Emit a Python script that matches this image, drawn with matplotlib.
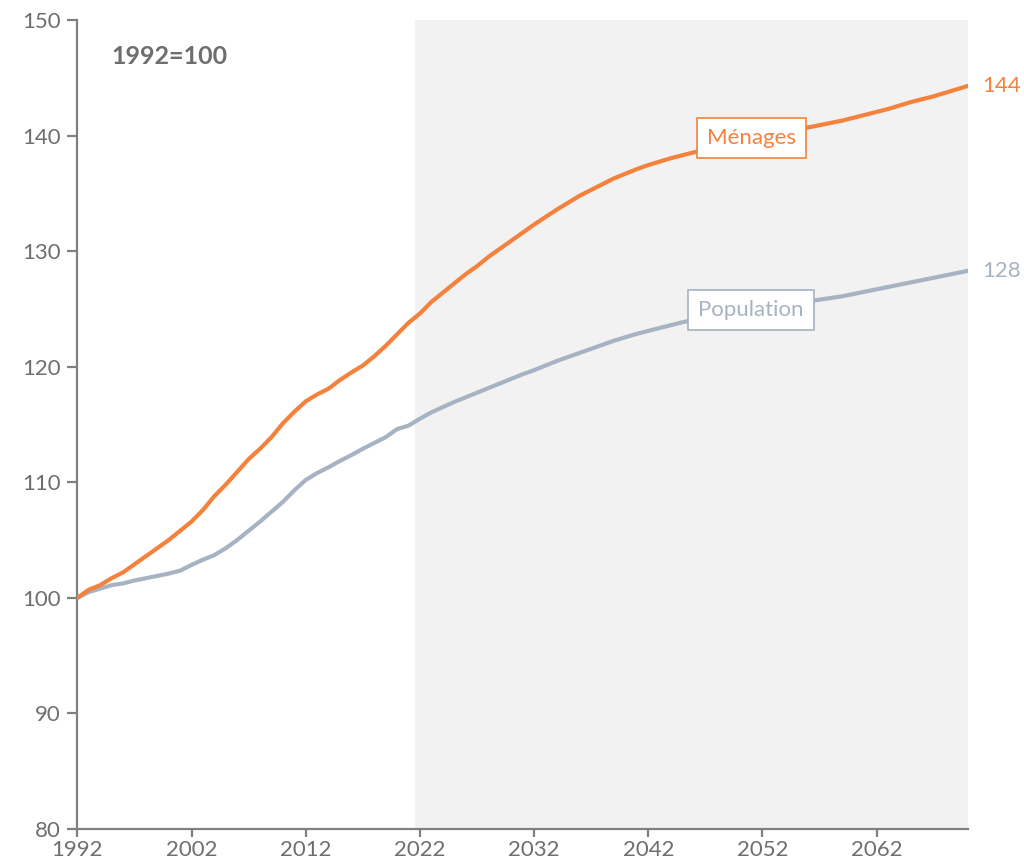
import numpy as np
import matplotlib
matplotlib.use("Agg")
import matplotlib.pyplot as plt

plt.rcParams["font.family"] = ["Lato", "DejaVu Sans"]

years = np.arange(1992, 2071)

# Ménages, index 1992=100
menages = [
    100.0, 100.7, 101.1, 101.7, 102.2, 102.9, 103.6, 104.3, 105.0, 105.8,   # 1992-2001
    106.6, 107.6, 108.8, 109.8, 110.9, 112.0, 112.9, 113.9, 115.1, 116.1,   # 2002-2011
    117.0, 117.6, 118.1, 118.85, 119.5, 120.1, 120.9, 121.8, 122.8, 123.8,  # 2012-2021
    124.6, 125.6, 126.4, 127.2, 128.0, 128.7, 129.5, 130.2, 130.9, 131.6,   # 2022-2031
    132.3, 132.95, 133.6, 134.2, 134.8, 135.3, 135.8, 136.3, 136.7, 137.1,  # 2032-2041
    137.45, 137.75, 138.05, 138.3, 138.55, 138.8, 139.05, 139.3, 139.55, 139.8,  # 2042-2051
    140.0, 140.2, 140.4, 140.55, 140.7, 140.9, 141.1, 141.3, 141.55, 141.8,  # 2052-2061
    142.05, 142.3, 142.6, 142.9, 143.15, 143.4, 143.7, 144.0, 144.3,        # 2062-2070
]

# Population, index 1992=100
population = [
    100.0, 100.5, 100.8, 101.1, 101.25, 101.5, 101.7, 101.9, 102.1, 102.35,
    102.85, 103.3, 103.7, 104.3, 105.0, 105.8, 106.6, 107.45, 108.3, 109.3,
    110.2, 110.8, 111.3, 111.85, 112.35, 112.9, 113.4, 113.9, 114.6, 114.9,
    115.5, 116.05, 116.5, 116.95, 117.35, 117.75, 118.15, 118.55, 118.95, 119.35,
    119.7, 120.1, 120.5, 120.85, 121.2, 121.55, 121.9, 122.25, 122.55, 122.85,
    123.1, 123.35, 123.6, 123.85, 124.05, 124.25, 124.45, 124.6, 124.75, 124.9,
    125.05, 125.2, 125.35, 125.5, 125.65, 125.8, 125.95, 126.1, 126.3, 126.5,
    126.7, 126.9, 127.1, 127.3, 127.5, 127.7, 127.9, 128.1, 128.3,
]

xticks = [1992, 2002, 2012, 2022, 2032, 2042, 2052, 2062]
yticks = [80, 90, 100, 110, 120, 130, 140, 150]
projection_start = 2021.6
label_year = 2051

ORANGE = "#f4823c"
BLUE_GREY = "#a7b3c2"
AXIS_GREY = "#808080"
TEXT_GREY = "#6e6e6e"

fig = plt.figure(figsize=(10.24, 8.63), dpi=100)
ax = fig.add_axes([0.0755, 0.0394, 0.8698, 0.9374])

ax.axvspan(projection_start, years[-1], color="#f2f2f2", lw=0, zorder=0)
ax.plot(years, population, color=BLUE_GREY, lw=3.0, zorder=2, solid_capstyle="round")
ax.plot(years, menages, color=ORANGE, lw=3.0, zorder=3, solid_capstyle="round")

ax.set_xlim(years[0], years[-1])
ax.set_ylim(80, 150)
ax.set_xticks(xticks)
ax.set_yticks(yticks)

for s in ["top", "right"]:
    ax.spines[s].set_visible(False)
for s in ["left", "bottom"]:
    ax.spines[s].set_color(AXIS_GREY)
    ax.spines[s].set_linewidth(1.6)
ax.tick_params(axis="both", colors=AXIS_GREY, labelcolor=TEXT_GREY,
               labelsize=16, width=1.6, direction="out")
ax.tick_params(axis="y", length=7, pad=5)
ax.tick_params(axis="x", length=6, pad=2)

ax.text(0.038, 0.955, "1992=100", transform=ax.transAxes, fontsize=18,
        fontweight="bold", color=TEXT_GREY, ha="left", va="center")

i = list(years).index(label_year)
for series, name, col in [(menages, "Ménages", ORANGE), (population, "Population", BLUE_GREY)]:
    ax.text(label_year, series[i], name, fontsize=16, color=col, ha="center", va="center",
            zorder=5, bbox=dict(boxstyle="square,pad=0.45", fc="white", ec=col, lw=1.2))
    ax.annotate(f"{series[-1]:.0f}", (years[-1], series[-1]), xytext=(10, 0),
                textcoords="offset points", fontsize=16, color=col,
                ha="left", va="center", annotation_clip=False)

fig.savefig("out.png", dpi=100)
